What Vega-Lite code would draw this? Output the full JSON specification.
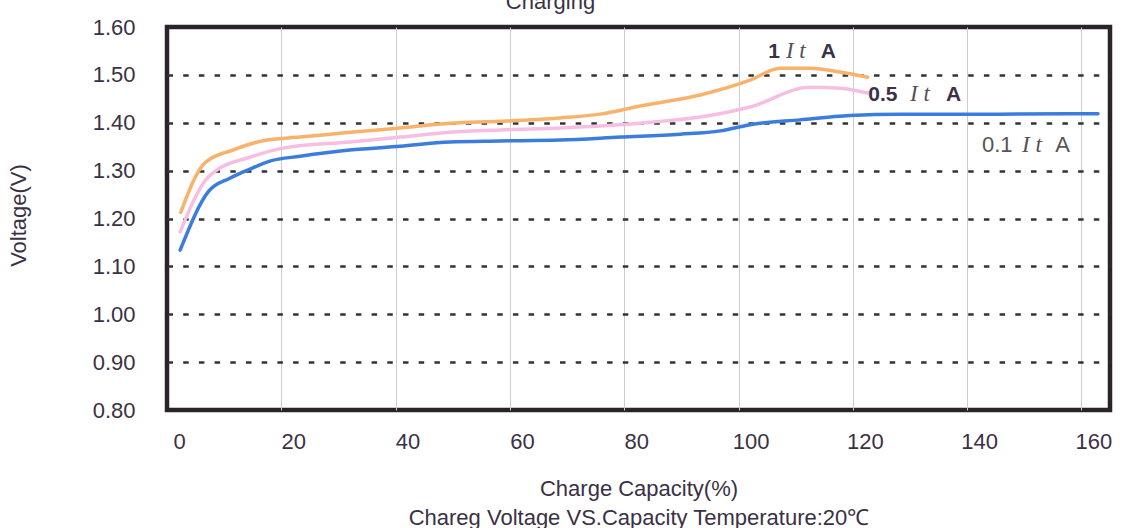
{
  "$schema": "https://vega.github.io/schema/vega-lite/v6.json",
  "width": 943,
  "height": 383,
  "autosize": {"type": "none"},
  "padding": {"left": 167, "top": 27, "right": 15, "bottom": 118},
  "background": "white",
  "config": {
    "view": {"stroke": "#2b2329", "strokeWidth": 4.5},
    "font": "Liberation Sans"
  },
  "title": {
    "text": "Charging",
    "orient": "top",
    "anchor": "middle",
    "frame": "group",
    "dx": -88,
    "dy": 20,
    "offset": 5,
    "baseline": "alphabetic",
    "fontSize": 22,
    "fontWeight": "normal",
    "color": "#3b3145",
    "font": "Liberation Sans"
  },
  "datasets": {
    "curves": [
      {"series": "1ItA", "x": 2.4, "v": 1.213},
      {"series": "1ItA", "x": 6.6, "v": 1.316},
      {"series": "1ItA", "x": 11.5, "v": 1.343},
      {"series": "1ItA", "x": 17.5, "v": 1.364},
      {"series": "1ItA", "x": 23.3, "v": 1.370},
      {"series": "1ItA", "x": 32.0, "v": 1.380},
      {"series": "1ItA", "x": 40.8, "v": 1.389},
      {"series": "1ItA", "x": 49.5, "v": 1.399},
      {"series": "1ItA", "x": 58.3, "v": 1.403},
      {"series": "1ItA", "x": 68.8, "v": 1.410},
      {"series": "1ItA", "x": 75.8, "v": 1.418},
      {"series": "1ItA", "x": 82.8, "v": 1.435},
      {"series": "1ItA", "x": 93.3, "v": 1.458},
      {"series": "1ItA", "x": 102.0, "v": 1.489},
      {"series": "1ItA", "x": 107.3, "v": 1.514},
      {"series": "1ItA", "x": 112.5, "v": 1.514},
      {"series": "1ItA", "x": 117.8, "v": 1.506},
      {"series": "1ItA", "x": 122.6, "v": 1.495},
      {"series": "0.5ItA", "x": 2.3, "v": 1.172},
      {"series": "0.5ItA", "x": 7.0, "v": 1.284},
      {"series": "0.5ItA", "x": 8.7, "v": 1.301},
      {"series": "0.5ItA", "x": 14.5, "v": 1.328},
      {"series": "0.5ItA", "x": 20.3, "v": 1.347},
      {"series": "0.5ItA", "x": 32.0, "v": 1.360},
      {"series": "0.5ItA", "x": 40.8, "v": 1.370},
      {"series": "0.5ItA", "x": 49.5, "v": 1.380},
      {"series": "0.5ItA", "x": 58.3, "v": 1.385},
      {"series": "0.5ItA", "x": 68.8, "v": 1.389},
      {"series": "0.5ItA", "x": 75.8, "v": 1.393},
      {"series": "0.5ItA", "x": 84.5, "v": 1.401},
      {"series": "0.5ItA", "x": 93.3, "v": 1.412},
      {"series": "0.5ItA", "x": 102.0, "v": 1.433},
      {"series": "0.5ItA", "x": 112.5, "v": 1.474},
      {"series": "0.5ItA", "x": 117.8, "v": 1.472},
      {"series": "0.5ItA", "x": 122.6, "v": 1.462},
      {"series": "0.1ItA", "x": 2.3, "v": 1.134},
      {"series": "0.1ItA", "x": 7.3, "v": 1.257},
      {"series": "0.1ItA", "x": 11.0, "v": 1.284},
      {"series": "0.1ItA", "x": 14.5, "v": 1.303},
      {"series": "0.1ItA", "x": 18.0, "v": 1.320},
      {"series": "0.1ItA", "x": 23.3, "v": 1.330},
      {"series": "0.1ItA", "x": 32.0, "v": 1.343},
      {"series": "0.1ItA", "x": 40.8, "v": 1.351},
      {"series": "0.1ItA", "x": 49.5, "v": 1.360},
      {"series": "0.1ItA", "x": 58.3, "v": 1.362},
      {"series": "0.1ItA", "x": 68.8, "v": 1.364},
      {"series": "0.1ItA", "x": 79.3, "v": 1.370},
      {"series": "0.1ItA", "x": 89.8, "v": 1.376},
      {"series": "0.1ItA", "x": 96.8, "v": 1.383},
      {"series": "0.1ItA", "x": 102.0, "v": 1.396},
      {"series": "0.1ItA", "x": 110.8, "v": 1.406},
      {"series": "0.1ItA", "x": 119.5, "v": 1.415},
      {"series": "0.1ItA", "x": 128.3, "v": 1.418},
      {"series": "0.1ItA", "x": 145.8, "v": 1.418},
      {"series": "0.1ItA", "x": 162.9, "v": 1.419}
    ],
    "labels": [
      {"series": "1ItA", "piece": "value", "x": 105.2, "v": 1.535, "text": "1"},
      {"series": "1ItA", "piece": "It", "x": 108.3, "v": 1.535, "text": "I t"},
      {"series": "1ItA", "piece": "unit", "x": 114.4, "v": 1.535, "text": "A"},
      {"series": "0.5ItA", "piece": "value", "x": 122.7, "v": 1.445, "text": "0.5"},
      {"series": "0.5ItA", "piece": "It", "x": 130.0, "v": 1.445, "text": "I t"},
      {"series": "0.5ItA", "piece": "unit", "x": 136.3, "v": 1.445, "text": "A"},
      {"series": "0.1ItA", "piece": "value", "x": 142.6, "v": 1.339, "text": "0.1"},
      {"series": "0.1ItA", "piece": "It", "x": 149.6, "v": 1.339, "text": "I t"},
      {"series": "0.1ItA", "piece": "unit", "x": 155.4, "v": 1.339, "text": "A"}
    ]
  },
  "encoding": {
    "x": {
      "field": "x",
      "type": "quantitative",
      "scale": {"domain": [0, 165], "nice": false, "zero": false},
      "axis": {
        "values": [0, 20, 40, 60, 80, 100, 120, 140, 160],
        "title": ["Charge Capacity(%)", "Chareg Voltage VS.Capacity Temperature:20℃"],
        "grid": true,
        "gridColor": "#cccccc",
        "gridWidth": 1,
        "gridOpacity": {"condition": {"test": "datum.value === 0", "value": 0}, "value": 1},
        "domain": false,
        "ticks": false,
        "labelPadding": 21,
        "labelOffset": 12,
        "labelFlush": false,
        "labelFontSize": 22,
        "labelColor": "#3b3145",
        "labelFont": "Liberation Sans",
        "titleFont": "Liberation Sans",
        "titleFontSize": 22,
        "titleFontWeight": "normal",
        "titleColor": "#3b3145",
        "titleLineHeight": 29,
        "titleBaseline": "top",
        "titleY": 68
      }
    },
    "y": {
      "field": "v",
      "type": "quantitative",
      "scale": {"domain": [0.8, 1.6], "nice": false, "zero": false},
      "axis": {
        "values": [0.8, 0.9, 1.0, 1.1, 1.2, 1.3, 1.4, 1.5, 1.6],
        "format": ".2f",
        "title": "Voltage(V)",
        "grid": true,
        "gridColor": "#333333",
        "gridWidth": 2.5,
        "gridDash": [5.5, 10.2],
        "gridOpacity": {"condition": {"test": "datum.value <= 0.8 || datum.value >= 1.6", "value": 0}, "value": 1},
        "domain": false,
        "ticks": false,
        "labelPadding": 32,
        "labelFontSize": 22,
        "labelColor": "#3b3145",
        "labelFont": "Liberation Sans",
        "titleFont": "Liberation Sans",
        "titleFontSize": 22,
        "titleFontWeight": "normal",
        "titleColor": "#3b3145",
        "titleAngle": -90,
        "titleBaseline": "alphabetic",
        "titleX": -142,
        "titleY": 188
      }
    }
  },
  "layer": [
    {
      "data": {"name": "curves"},
      "mark": {"type": "line", "interpolate": "monotone", "strokeCap": "round", "strokeJoin": "round"},
      "encoding": {
        "color": {
          "field": "series",
          "type": "nominal",
          "scale": {"domain": ["1ItA", "0.5ItA", "0.1ItA"], "range": ["#f8b26c", "#f6bfe1", "#3b7ddd"]},
          "legend": null
        },
        "strokeWidth": {
          "field": "series",
          "type": "nominal",
          "scale": {"domain": ["1ItA", "0.5ItA", "0.1ItA"], "range": [3.5, 3.5, 6]},
          "legend": null
        },
        "detail": {"field": "series"}
      }
    },
    {
      "data": {"name": "labels"},
      "transform": [{"filter": "datum.piece !== 'It' && datum.series !== '0.1ItA'"}],
      "mark": {"type": "text", "align": "left", "baseline": "alphabetic", "font": "Liberation Sans", "fontSize": 21, "fontWeight": "bold", "color": "#3b3145"},
      "encoding": {"text": {"field": "text"}}
    },
    {
      "data": {"name": "labels"},
      "transform": [{"filter": "datum.piece === 'It'"}],
      "mark": {"type": "text", "align": "left", "baseline": "alphabetic", "font": "Liberation Serif", "fontSize": 23, "fontStyle": "italic", "color": "#55505a"},
      "encoding": {"text": {"field": "text"}}
    },
    {
      "data": {"name": "labels"},
      "transform": [{"filter": "datum.piece !== 'It' && datum.series === '0.1ItA'"}],
      "mark": {"type": "text", "align": "left", "baseline": "alphabetic", "font": "Liberation Sans", "fontSize": 22, "color": "#555555"},
      "encoding": {"text": {"field": "text"}}
    }
  ]
}
